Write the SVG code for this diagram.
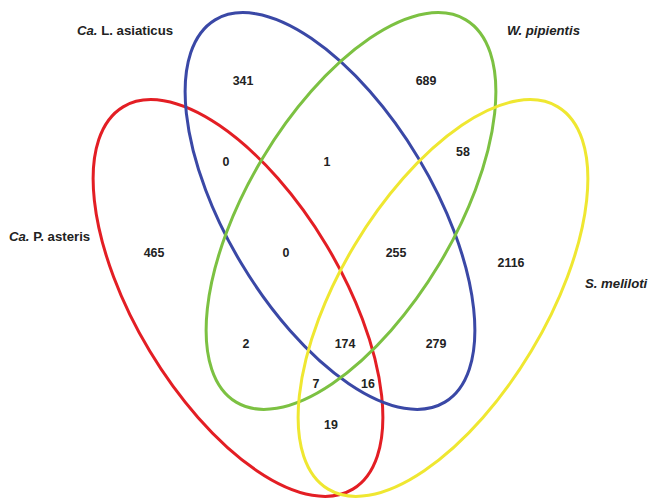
<svg xmlns="http://www.w3.org/2000/svg" width="649" height="500" viewBox="0 0 649 500">
<style>
.set{fill:none;stroke-width:3}
.lbl{font-family:"Liberation Sans",Arial,sans-serif;font-weight:bold;font-size:13.2px;fill:#222}
.num{font-family:"Liberation Sans",Arial,sans-serif;font-weight:bold;font-size:12.4px;fill:#222;text-anchor:middle}
.it{font-style:italic}
</style>
<rect width="649" height="500" fill="#ffffff"/>
<g id="set-asteris">
<ellipse class="set" cx="238" cy="298" rx="223" ry="103" transform="rotate(59 238 298)" stroke="#e31e24"/>
<text class="lbl" x="9" y="241"><tspan class="it">Ca.</tspan> P. asteris</text>
</g>
<g id="set-asiaticus">
<ellipse class="set" cx="330" cy="211" rx="223" ry="103" transform="rotate(59 330 211)" stroke="#3a48a6"/>
<text class="lbl" x="77" y="35"><tspan class="it">Ca.</tspan> L. asiaticus</text>
</g>
<g id="set-pipientis">
<ellipse class="set" cx="351" cy="211" rx="223" ry="103" transform="rotate(-59 351 211)" stroke="#7cc142"/>
<text class="lbl it" x="507" y="35">W. pipientis</text>
</g>
<g id="set-meliloti">
<ellipse class="set" cx="443" cy="298" rx="223" ry="103" transform="rotate(-59 443 298)" stroke="#efe731"/>
<text class="lbl it" x="585" y="288">S. meliloti</text>
</g>
<g id="counts">
<text class="num" x="243" y="85">341</text>
<text class="num" x="426" y="85">689</text>
<text class="num" x="226" y="166">0</text>
<text class="num" x="327" y="166">1</text>
<text class="num" x="463" y="156">58</text>
<text class="num" x="154" y="257">465</text>
<text class="num" x="286" y="257">0</text>
<text class="num" x="396" y="257">255</text>
<text class="num" x="511" y="267">2116</text>
<text class="num" x="246" y="348">2</text>
<text class="num" x="345" y="348">174</text>
<text class="num" x="436" y="348">279</text>
<text class="num" x="316" y="388">7</text>
<text class="num" x="368" y="388">16</text>
<text class="num" x="331" y="429">19</text>
</g>
</svg>
